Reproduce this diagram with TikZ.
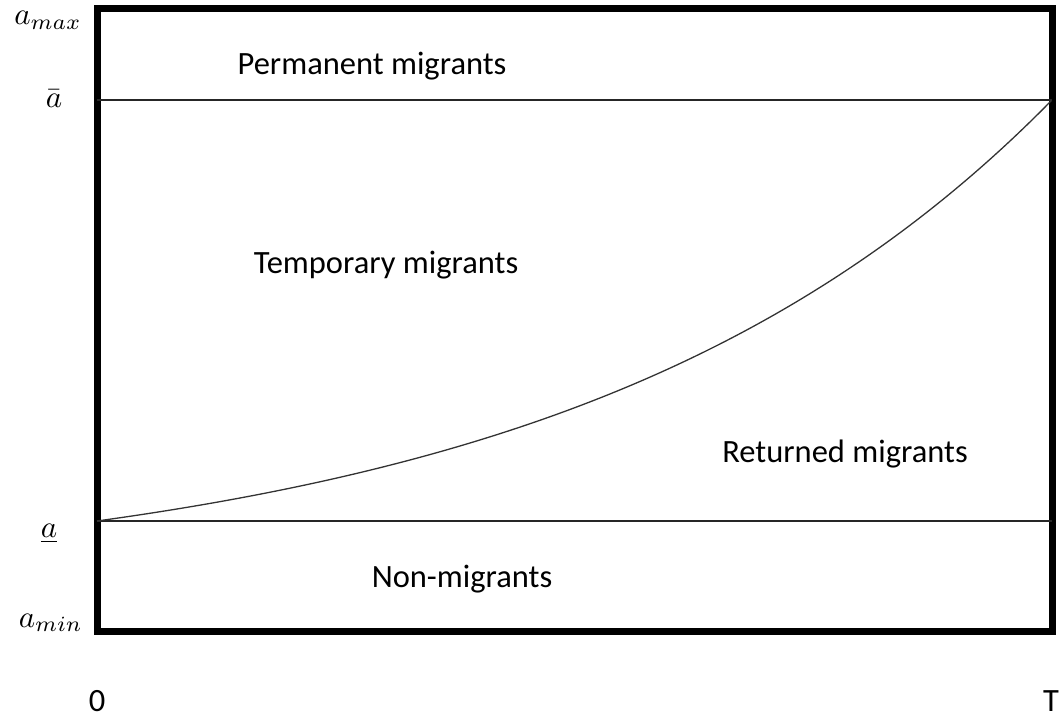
\documentclass[tikz,border=0pt]{standalone}
\usepackage{fontspec}
\setmainfont{Carlito}
\begin{document}
\begin{tikzpicture}[x=1pt,y=-1pt,
  frame/.style={line width=7pt,line join=miter},
  level/.style={line width=1.6pt,draw=black!85},
  curveline/.style={line width=1.3pt,draw=black!80},
  region/.style={font=\fontsize{32.5}{38}\selectfont,anchor=base,inner sep=0pt},
  axlab/.style={inner sep=0pt}]
\useasboundingbox (0,0) rectangle (1060,722);
% corners
\coordinate (TL) at (97,9);
\coordinate (BR) at (1052,631);
\coordinate (hiL) at (97,100);
\coordinate (hiR) at (1052,100);
\coordinate (loL) at (97,521);
\coordinate (loR) at (1052,521);
% frame
\draw[frame] (TL) rectangle (BR);
% levels
\draw[level] (hiL) -- (hiR);
\draw[level] (loL) -- (loR);
% threshold curve
\draw[curveline] plot[domain=0:1,samples=80,smooth]
  ({97+955*\x},{521-421*(exp(2*\x)-1)/(exp(2)-1)});
% region labels
\node[region] (perm) at (372,75) {Permanent migrants};
\node[region] (temp) at (386,273) {Temporary migrants};
\node[region] (ret) at (845,462) {Returned migrants};
\node[region] (non) at (462,587) {Non-migrants};
% axis labels
\node[axlab,anchor=base east] (amax) at (82,25) {\scalebox{3.1}{$a_{max}$}};
\node[axlab,anchor=base] (abar) at (54,108) {\scalebox{3.1}{$\bar{a}$}};
\node[axlab,anchor=base] (aund) at (49,537) {\scalebox{3.1}{$\underline{a}$}};
\node[axlab,anchor=base east] (amin) at (83,627) {\scalebox{3.1}{$a_{min}$}};
\node[region] (zero) at (97,711) {0};
\node[region] (T) at (1051,711) {T};
\end{tikzpicture}
\end{document}
